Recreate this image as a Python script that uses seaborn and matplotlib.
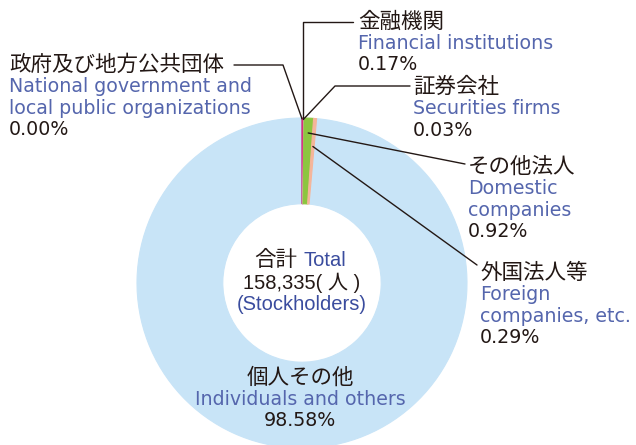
import matplotlib
matplotlib.use("Agg")
import matplotlib.pyplot as plt
import seaborn as sns
import numpy as np

# ---- data ----
labels_ja = ["政府及び地方公共団体", "金融機関", "証券会社", "その他法人", "外国法人等", "個人その他"]
labels_en = ["National government and\nlocal public organizations", "Financial institutions",
             "Securities firms", "Domestic\ncompanies", "Foreign\ncompanies, etc.",
             "Individuals and others"]
values = [0.00, 0.17, 0.03, 0.92, 0.29, 98.58]
total_label_ja = "合計"
total_label_en = "Total"
total_value = "158,335( 人 )"
total_unit_en = "(Stockholders)"

colors = ["#9e86c6", "#d9307a", "#e9a0c0", "#8cc63f", "#f5b59a", "#c8e4f7"]

sns.set_style("white")
plt.rcParams['font.family'] = ['DejaVu Sans', 'Noto Sans CJK JP']

W, H = 636, 445
CX, CY, R = 302, 283, 165

fig = plt.figure(figsize=(W / 100, H / 100), dpi=100)
ax = fig.add_axes([0, 0, 1, 1])


def P(x, y):
    return ((x - CX) / R, (CY - y) / R)


wedges, _ = ax.pie(values, colors=colors, startangle=90, counterclock=False,
                   radius=1.0, wedgeprops=dict(width=0.52, linewidth=0.8),
                   normalize=True)
for w, c in zip(wedges, colors):
    w.set_edgecolor(c)
wedges[-1].set_zorder(1)
for w in wedges[:-1]:
    w.set_zorder(2)

ax.set_aspect("auto")
ax.set_xlim(-CX / R, (W - CX) / R)
ax.set_ylim((CY - H) / R, CY / R)
ax.axis("off")

JA = ['Noto Sans CJK JP', 'DejaVu Sans']
EN = ['DejaVu Sans', 'Noto Sans CJK JP']
BLK = "#231815"
BLUE = "#5566ad"
fs_ja, fs_en = 15.5, 13.7
LS = 21.5


def label(x, y_ja, i, ha="left"):
    px, py = P(x, y_ja)
    ax.text(px, py, labels_ja[i], fontsize=fs_ja, family=JA, color=BLK, ha=ha, va="center")
    lines = labels_en[i].split("\n")
    for k, ln in enumerate(lines):
        ex, ey = P(x, y_ja + LS * (k + 1))
        ax.text(ex, ey, ln, fontsize=fs_en, family=EN, color=BLUE, ha=ha, va="center")
    qx, qy = P(x, y_ja + LS * (len(lines) + 1))
    ax.text(qx, qy, f"{values[i]:.2f}%", fontsize=fs_en, family=EN, color=BLK, ha=ha, va="center")


label(9, 65, 0)
label(358, 22, 1)
label(413, 87, 2)
label(468, 167, 3)
label(480, 273, 4)
label(300, 378, 5, ha="center")

# center
ax.text(*P(297, 260), total_label_ja, fontsize=fs_ja, family=JA, color=BLK,
        ha="right", va="center")
ax.text(*P(303, 260), total_label_en, fontsize=14.5, family=['Liberation Sans'], color="#3a4c9e",
        ha="left", va="center")
ax.text(*P(302, 283), total_value, fontsize=14.5, family=['Liberation Sans', 'Noto Sans CJK JP'],
        color=BLK, ha="center", va="center")
ax.text(*P(302, 305), total_unit_en, fontsize=14.5, family=['Liberation Sans'], color="#3a4c9e",
        ha="center", va="center")


# leader lines
def wedge_point(i, r):
    cum = np.cumsum([0] + values)
    frac = (cum[i] + values[i] / 2) / sum(values)
    ang = np.deg2rad(90 - 360 * frac)
    return (r * np.cos(ang), r * np.sin(ang))


lk = dict(color="#231815", lw=1.0)
a = wedge_point(0, 0.995)
pts = [a, P(283, 65), P(234, 65)]
ax.plot([p[0] for p in pts], [p[1] for p in pts], **lk)
a = wedge_point(1, 0.995)
pts = [a, (a[0], P(0, 22)[1]), P(353, 22)]
ax.plot([p[0] for p in pts], [p[1] for p in pts], **lk)
a = wedge_point(2, 0.995)
pts = [a, P(335, 86), P(410, 86)]
ax.plot([p[0] for p in pts], [p[1] for p in pts], **lk)
a = wedge_point(3, 0.91)
pts = [a, P(465, 164)]
ax.plot([p[0] for p in pts], [p[1] for p in pts], **lk)
a = wedge_point(4, 0.83)
pts = [a, P(477, 265)]
ax.plot([p[0] for p in pts], [p[1] for p in pts], **lk)

fig.savefig("out.png", dpi=100)
